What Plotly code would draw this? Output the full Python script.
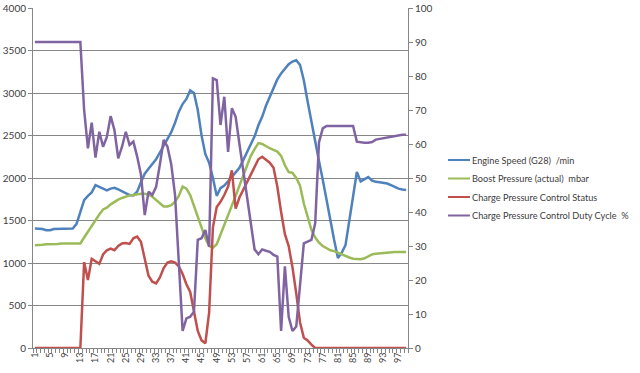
import plotly.graph_objects as go

# ---------------- data ----------------
samples = list(range(1, 100))

engine_speed = [1405, 1405, 1400, 1385, 1385, 1400, 1400, 1400, 1400, 1400, 1405,
                1460, 1600, 1740, 1790, 1830, 1915, 1895, 1875, 1855, 1875, 1885,
                1865, 1840, 1815, 1800, 1795, 1840, 1950, 2050, 2110, 2160, 2220,
                2300, 2380, 2470, 2540, 2650, 2780, 2870, 2930, 3030, 3000, 2800,
                2500, 2280, 2180, 2000, 1790, 1880, 1910, 1960, 2010, 2060, 2120,
                2210, 2300, 2390, 2490, 2620, 2720, 2850, 2950, 3050, 3160, 3230,
                3290, 3340, 3370, 3385, 3330, 3150, 2900, 2650, 2420, 2200, 1980,
                1730, 1500, 1270, 1060, 1120, 1210, 1480, 1760, 2070, 1960, 1990,
                2010, 1970, 1955, 1950, 1940, 1935, 1915, 1895, 1875, 1865, 1860]

boost_pressure = [1210, 1210, 1215, 1220, 1220, 1225, 1225, 1230, 1230, 1230, 1230,
                  1230, 1230, 1300, 1370, 1430, 1505, 1570, 1630, 1650, 1690, 1720,
                  1745, 1765, 1780, 1795, 1800, 1810, 1815, 1815, 1805, 1780, 1745,
                  1700, 1665, 1665, 1680, 1720, 1790, 1900, 1875, 1800, 1670, 1550,
                  1420, 1290, 1200, 1180, 1220, 1330, 1450, 1560, 1680, 1790, 1910,
                  2020, 2150, 2260, 2340, 2410, 2400, 2370, 2350, 2330, 2310, 2260,
                  2150, 2070, 2060, 2000, 1910, 1700, 1530, 1390, 1300, 1240, 1200,
                  1170, 1150, 1140, 1120, 1100, 1080, 1065, 1050, 1045, 1045, 1055,
                  1075, 1100, 1110, 1115, 1120, 1122, 1125, 1128, 1130, 1130, 1130]

control_status = [0, 0, 0, 0, 0, 0, 0, 0, 0, 0, 0, 0, 0,
                  1010, 800, 1050, 1020, 990, 1100, 1150, 1170, 1150, 1200, 1230,
                  1235, 1225, 1290, 1310, 1250, 1030, 850, 780, 760, 830, 940,
                  1005, 1020, 1005, 960, 870, 750, 660, 430, 200, 90, 55,
                  420, 1420, 1660, 1720, 1800, 1900, 2090, 1640, 1770, 1860, 1950,
                  2040, 2130, 2220, 2250, 2220, 2180, 2120, 1900, 1600, 1340, 1200,
                  950, 640, 300, 120, 90, 40,
                  0, 0, 0, 0, 0, 0, 0, 0, 0, 0, 0, 0, 0, 0, 0, 0, 0, 0, 0, 0, 0, 0, 0, 0, 0]

duty_cycle = [90, 90, 90, 90, 90, 90, 90, 90, 90, 90, 90, 90, 90,
              70, 58.7, 66.3, 56, 63.6, 59.2, 62.1, 68.2, 64.1, 55.8, 59.2,
              63.6, 59.7, 60.7, 56.3, 51, 39.1, 46, 45, 47.4, 54, 61.2,
              59.2, 54, 45, 25, 5, 8.7, 9.2, 10.7, 31.8, 32.3, 34.7,
              29.8, 79.3, 78.8, 65.6, 73.9, 57.7, 70.5, 68, 60, 52, 44,
              37, 29, 27.6, 29, 28.6, 28.3, 27.4, 26.9, 5, 24, 9.2,
              5, 6.3, 18, 30.8, 31.3, 31.8, 36.7, 60.5, 64.6,
              65.3, 65.3, 65.3, 65.3, 65.3, 65.3, 65.3, 65.3,
              60.7, 60.5, 60.4, 60.4, 60.6, 61.3, 61.5, 61.6, 61.8, 62.1,
              62.4, 62.6, 62.7, 62.7]

tick_positions = list(range(1, 100, 4))
tick_labels = [str(v) for v in tick_positions]

series_names = ["Engine Speed (G28)\u00a0 /min",
                "Boost Pressure (actual)\u00a0 mbar",
                "Charge Pressure Control Status",
                "Charge Pressure Control Duty Cycle\u00a0 %"]
series_colors = ["#4F81BD", "#9BBB59", "#C0504D", "#8064A2"]
series_values = [engine_speed, boost_pressure, control_status, duty_cycle]
series_axes = ["y", "y", "y", "y2"]

# ---------------- figure ----------------
W, H = 640, 373
ML, MR, MT, MB = 33, 232, 8, 25
PW, PH = W - ML - MR, H - MT - MB

fig = go.Figure()
for name, vals, col, ax in zip(series_names, series_values, series_colors, series_axes):
    fig.add_trace(go.Scatter(x=samples, y=vals, name=name, mode="lines",
                             line=dict(color=col, width=2.5), yaxis=ax,
                             showlegend=False))

# hand-placed legend (Excel style, to the right of the plot)
leg_x0, leg_x1, leg_text_x = 448, 470, 471
leg_y = [160, 178.5, 197, 215.5]
for name, col, py in zip(series_names, series_colors, leg_y):
    yp = (H - MB - py) / PH
    fig.add_shape(type="line", xref="paper", yref="paper",
                  x0=(leg_x0 - ML) / PW, x1=(leg_x1 - ML) / PW, y0=yp, y1=yp,
                  line=dict(color=col, width=2))
    fig.add_annotation(xref="paper", yref="paper", x=(leg_text_x - ML) / PW, y=yp,
                       xanchor="left", yanchor="middle", showarrow=False, text=name,
                       borderpad=0, font=dict(size=9.2, color="#404040"))

axis_col = "#868686"
font_family = "Lato, Carlito, sans-serif"

fig.update_layout(
    width=W, height=H,
    margin=dict(l=ML, r=MR, t=MT, b=MB, autoexpand=False),
    paper_bgcolor="white", plot_bgcolor="white",
    font=dict(family=font_family, size=10, color="#404040"),
    showlegend=False,
    xaxis=dict(range=[0.5, 99.5], tickmode="array", tickvals=tick_positions,
               ticktext=tick_labels, tickangle=-90, showgrid=False, zeroline=False,
               showline=True, linecolor=axis_col, linewidth=1, automargin=False,
               ticks="", tickfont=dict(size=9),
               minor=dict(tickmode="linear", tick0=0.5, dtick=1, ticks="outside",
                          ticklen=4, tickcolor=axis_col, showgrid=False)),
    yaxis=dict(range=[0, 4000], dtick=500, showgrid=True, gridcolor=axis_col,
               gridwidth=1, zeroline=False, showline=True, linecolor=axis_col,
               ticks="outside", ticklen=4, tickcolor=axis_col, automargin=False),
    yaxis2=dict(range=[0, 100], dtick=10, overlaying="y", side="right",
                showgrid=False, zeroline=False, showline=True, linecolor=axis_col,
                ticks="outside", ticklen=4, tickcolor=axis_col, automargin=False),
)

fig.write_html("out.html", config={"displayModeBar": False},
               post_script="document.body.style.margin='0';")
